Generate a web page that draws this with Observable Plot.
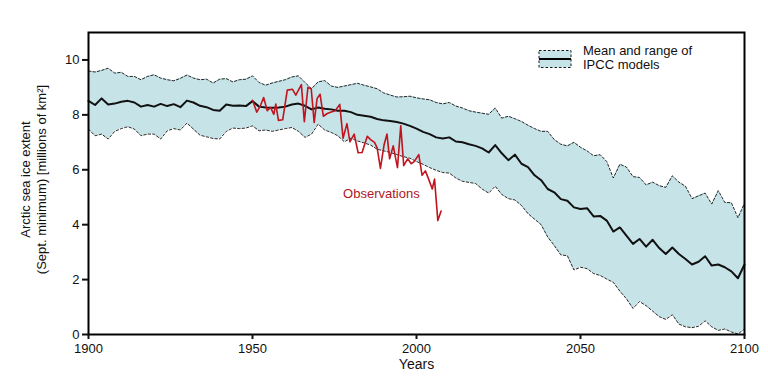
<!DOCTYPE html>
<html>
<head>
<meta charset="utf-8">
<script src="https://cdn.jsdelivr.net/npm/d3@7"></script>
<script src="https://cdn.jsdelivr.net/npm/@observablehq/plot@0.6"></script>
<style>
  html, body { margin: 0; padding: 0; background: #fff; }
  #wrap { position: relative; width: 768px; height: 381px; font-family: "Liberation Sans", Arial, sans-serif; }
  #legend { position: absolute; left: 538px; top: 44px; display: flex; align-items: flex-start; font-size: 13px; line-height: 13.5px; color: #111; }
  #legend svg { margin-top: 5px; margin-right: 11px; }
</style>
</head>
<body>
<div id="wrap">
  <div id="chart"></div>
  <div id="legend">
    <svg width="34" height="20">
      <rect x="1" y="1.5" width="32" height="17" fill="#c6e3e8" stroke="#000" stroke-width="0.9" stroke-dasharray="2.5,2"></rect>
      <line x1="1" x2="33" y1="10" y2="10" stroke="#000" stroke-width="2"></line>
    </svg>
    <div>Mean and range of<br>IPCC models</div>
  </div>
</div>
<script>
// ---- Data ----
const modelYears = d3.range(1900, 2101, 2);

const meanVals = [
  8.51, 8.36, 8.60, 8.38, 8.41, 8.48, 8.51, 8.45, 8.30, 8.36,
  8.30, 8.40, 8.32, 8.39, 8.28, 8.52, 8.45, 8.33, 8.28, 8.18,
  8.15, 8.38, 8.33, 8.34, 8.32, 8.50, 8.30, 8.27, 8.26, 8.27,
  8.30, 8.38, 8.41, 8.33, 8.20, 8.27, 8.22, 8.20, 8.15, 8.15,
  8.10, 8.00, 7.97, 7.93, 7.85, 7.80, 7.78, 7.74, 7.68, 7.60,
  7.50, 7.38, 7.30, 7.18, 7.14, 7.18, 7.03, 7.00, 6.93, 6.87,
  6.78, 6.63, 6.90, 6.60, 6.35, 6.55, 6.22, 6.10, 5.80, 5.62,
  5.30, 5.18, 4.93, 4.87, 4.63, 4.57, 4.60, 4.30, 4.32, 4.15,
  3.75, 3.90, 3.60, 3.30, 3.48, 3.20, 3.45, 3.15, 2.93, 3.17,
  2.93, 2.75, 2.55, 2.65, 2.85, 2.51, 2.55, 2.45, 2.30, 2.05,
  2.55
];

const upperVals = [
  9.60, 9.56, 9.62, 9.70, 9.52, 9.55, 9.40, 9.40, 9.28, 9.40,
  9.46, 9.34, 9.28, 9.24, 9.33, 9.45, 9.34, 9.28, 9.30, 9.16,
  9.30, 9.32, 9.20, 9.28, 9.30, 9.42, 9.18, 9.08, 9.16, 9.22,
  9.28, 9.38, 9.42, 9.18, 8.95, 9.20, 9.25, 9.05, 9.00, 9.05,
  9.10, 9.15, 9.08, 9.02, 8.95, 8.80, 8.72, 8.65, 8.66, 8.68,
  8.62, 8.58, 8.55, 8.45, 8.40, 8.45, 8.32, 8.25, 8.15, 8.10,
  8.06, 8.02, 8.25, 7.88, 7.95, 7.86, 7.76, 7.62, 7.50, 7.40,
  7.40, 7.10, 6.93, 6.87, 7.00, 6.82, 6.69, 6.51, 6.55, 6.30,
  5.70, 6.20, 6.10, 5.75, 5.72, 5.45, 5.55, 5.42, 5.36, 5.78,
  5.55, 5.40, 4.95, 5.05, 5.15, 4.75, 5.24, 4.81, 4.80, 4.25,
  4.78
];

const lowerVals = [
  7.48, 7.24, 7.30, 7.12, 7.40, 7.50, 7.57, 7.48, 7.24, 7.30,
  7.30, 7.12, 7.42, 7.50, 7.45, 7.70, 7.48, 7.26, 7.20, 7.14,
  7.12, 7.40, 7.52, 7.50, 7.52, 7.60, 7.42, 7.45, 7.40, 7.45,
  7.50, 7.54, 7.40, 7.18, 7.30, 7.66, 7.45, 7.36, 7.24, 7.02,
  7.15, 7.05, 6.98, 6.90, 6.75, 6.69, 6.63, 6.55, 6.48, 6.42,
  6.30, 6.20, 6.08, 5.98, 5.90, 5.88, 5.70, 5.58, 5.54, 5.50,
  5.30, 5.15, 5.40, 5.10, 4.95, 4.90, 4.70, 4.40, 4.20, 4.00,
  3.55, 3.24, 2.90, 2.87, 2.35, 2.45, 2.40, 2.22, 2.15, 2.02,
  1.90, 1.58, 1.30, 0.95, 1.20, 1.05, 0.85, 0.65, 0.55, 0.72,
  0.38, 0.28, 0.25, 0.30, 0.50, 0.28, 0.15, 0.20, 0.09, 0.02,
  0.20
];

const obsYears = [
  1950.0, 1951.3, 1952.4, 1953.4, 1954.5, 1955.5, 1956.5, 1957.1, 1957.9, 1959.2,
  1960.6, 1962.2, 1963.2, 1964.9, 1965.8, 1966.9, 1967.9, 1968.8, 1969.7, 1970.6,
  1971.6, 1972.8, 1974.0, 1975.2, 1976.6, 1977.6, 1978.8, 1979.7, 1981.0, 1982.2,
  1983.4, 1985.0, 1986.0, 1987.2, 1988.0, 1989.0, 1990.1, 1991.0, 1991.8, 1992.9,
  1994.2, 1995.2, 1996.1, 1997.3, 1998.4, 1999.3, 2000.7, 2001.7, 2002.7, 2003.7,
  2004.8, 2005.5, 2006.5, 2007.5
];
const obsVals = [
  8.53, 8.10, 8.33, 8.63, 8.15, 8.27, 8.02, 8.39, 7.80, 7.82,
  8.90, 8.93, 8.72, 9.10, 7.75, 9.00, 8.95, 7.72, 8.60, 8.75,
  7.95, 8.05, 8.10, 8.15, 8.38, 7.15, 7.68, 7.02, 7.30, 6.62,
  6.63, 7.22, 7.10, 7.00, 6.80, 6.05, 6.90, 7.30, 6.40, 6.87,
  6.08, 7.60, 6.15, 6.40, 6.22, 6.30, 6.55, 5.80, 5.96, 5.66,
  5.30, 5.66, 4.15, 4.50
];

const xTicks = [1900, 1950, 2000, 2050, 2100];
const yTicks = [0, 2, 4, 6, 8, 10];
const obsLabel = {text: "Observations", year: 1989.3, value: 5.13};

// ---- Tables ----
const model = modelYears.map((year, i) => ({year, mean: meanVals[i], upper: upperVals[i], lower: lowerVals[i]}));
const obs = obsYears.map((year, i) => ({year, value: obsVals[i]}));

const chart = Plot.plot({
  width: 768,
  height: 381,
  marginLeft: 88,
  marginRight: 24,
  marginTop: 32,
  marginBottom: 47,
  style: {fontFamily: "Liberation Sans, Arial, sans-serif", fontSize: "13px", color: "#111", background: "#fff"},
  x: {domain: [1900, 2100], label: null},
  y: {domain: [0, 11], label: null},
  marks: [
    Plot.areaY(model, {x: "year", y1: "lower", y2: "upper", fill: "#c6e3e8", fillOpacity: 1}),
    Plot.lineY(model, {x: "year", y: "upper", stroke: "#111", strokeWidth: 0.9, strokeDasharray: "2.5,2"}),
    Plot.lineY(model, {x: "year", y: "lower", stroke: "#111", strokeWidth: 0.9, strokeDasharray: "2.5,2"}),
    Plot.lineY(model, {x: "year", y: "mean", stroke: "#111", strokeWidth: 2}),
    Plot.lineY(obs, {x: "year", y: "value", stroke: "#c0141e", strokeWidth: 1.6}),
    Plot.text([obsLabel], {x: "year", y: "value", text: "text", fill: "#b0161e", fontSize: 13, textAnchor: "middle"}),
    Plot.frame({stroke: "#000", strokeWidth: 2}),
    Plot.axisX({ticks: xTicks, tickFormat: d => String(d), tickSize: 5, tickPadding: 4, strokeWidth: 2, label: null}),
    Plot.axisY({ticks: yTicks, tickSize: 6, tickPadding: 3, strokeWidth: 2, label: null}),
    Plot.text(["Years"], {frameAnchor: "bottom", dy: 34, fontSize: 14, fill: "#111"}),
    Plot.text(["Arctic sea ice extent"], {frameAnchor: "left", textAnchor: "middle", dx: -63, dy: -4, rotate: -90, fontSize: 13, fill: "#111"}),
    Plot.text(["(Sept. minimum) [millions of km²]"], {frameAnchor: "left", textAnchor: "middle", dx: -47, dy: -4, rotate: -90, fontSize: 13, fill: "#111"})
  ]
});
document.getElementById("chart").appendChild(chart);
</script>
</body>
</html>
